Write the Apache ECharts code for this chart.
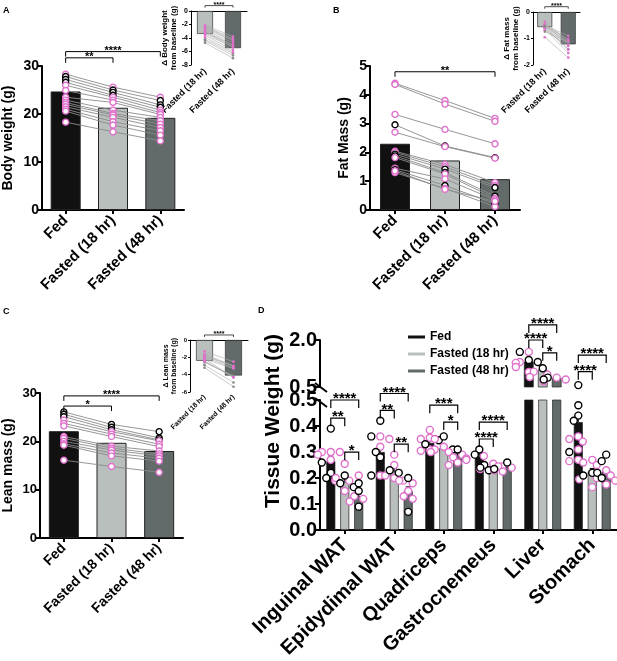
<!DOCTYPE html>
<html>
<head>
<meta charset="utf-8">
<title>Fasting body composition</title>
<script src="https://cdn.jsdelivr.net/npm/echarts@6/dist/echarts.min.js"></script>
<style>
    html, body { margin: 0; padding: 0; background: #fff; }
    #chart { width: 617px; height: 661px; }
</style>
</head>
<body>
<div id="chart"></div>
<script>
(function () {
    'use strict';

    var FONT = '"Liberation Sans", Arial, sans-serif';
    var PINK = '#e070cc';
    var BAR_COLORS = ['#111111', '#b9bfbd', '#626a6a'];

    var conditions = ['Fed', 'Fasted (18 hr)', 'Fasted (48 hr)'];
    var fastConditions = ['Fasted (18 hr)', 'Fasted (48 hr)'];

    // A - body weight (g), one entry per mouse
    var bwFed = [28.3, 27.8, 27.2, 26.6, 26.0, 24.9, 23.5, 22.9, 22.4, 22.0, 21.5, 21.0, 20.6, 18.3];
    var bw18 = [25.6, 25.0, 24.5, 23.9, 23.5, 22.9, 22.4, 20.8, 20.1, 19.8, 19.3, 18.4, 17.7, 16.3];
    var bw48 = [23.5, 22.8, 21.9, 21.4, 20.8, 20.3, 19.9, 19.3, 18.6, 17.9, 17.2, 16.5, 15.6, 14.4];
    var bwSex = ['p', 'b', 'b', 'b', 'p', 'p', 'p', 'p', 'p', 'p', 'p', 'p', 'p', 'p'];
    var bwMeans = [24.7, 21.3, 19.2];
    var bwDelta18 = [-3.1, -4.4, -4.7, -4.2, -3.4, -2.8, -2.1, -2.3, -2.6, -3.0, -3.6, -3.9, -2.4, -3.2];
    var bwDelta48 = [-5.1, -6.6, -7.0, -6.3, -5.4, -4.7, -3.8, -4.1, -4.4, -5.0, -5.8, -6.1, -4.3, -5.3];
    var bwDeltaMeans = [-3.4, -5.5];

    // B - fat mass (g)
    var fmFed = [4.40, 4.36, 3.32, 2.96, 2.70, 2.04, 2.00, 1.94, 1.88, 1.82, 1.45, 1.40, 1.30, 1.36];
    var fm18 = [3.80, 3.68, 2.80, 2.22, 2.20, 1.58, 1.50, 1.42, 1.30, 1.25, 1.08, 0.85, 0.75, 0.72];
    var fm48 = [3.18, 3.08, 2.30, 1.82, 1.80, 0.95, 0.85, 0.78, 0.48, 0.40, 0.35, 0.22, 0.12, 0.30];
    var fmSex = ['p', 'p', 'p', 'b', 'p', 'p', 'p', 'b', 'b', 'p', 'p', 'b', 'p', 'p'];
    var fmMeans = [2.30, 1.72, 1.07];
    var fmDelta18 = [-0.60, -0.68, -0.52, -0.74, -0.50, -0.46, -0.50, -0.52, -0.58, -0.57, -0.37, -0.55, -0.95, -0.64];
    var fmDelta48 = [-1.22, -1.28, -1.02, -1.14, -0.90, -1.09, -1.15, -1.16, -1.40, -1.42, -1.10, -1.18, -1.72, -1.55];
    var fmDeltaMeans = [-0.57, -1.22];

    // C - lean mass (g)
    var lmFed = [26.1, 25.6, 25.1, 24.4, 23.7, 23.2, 21.0, 20.6, 20.0, 19.5, 19.2, 16.1];
    var lm18 = [23.5, 22.9, 22.4, 22.0, 21.5, 21.0, 19.0, 18.6, 18.2, 17.6, 17.0, 14.8];
    var lm48 = [22.0, 20.7, 20.3, 20.1, 19.4, 18.9, 18.0, 17.4, 17.0, 16.5, 15.9, 13.6];
    var lmSex = ['b', 'b', 'b', 'p', 'p', 'p', 'p', 'p', 'p', 'p', 'p', 'p'];
    var lmMeans = [22.1, 19.7, 18.0];
    var lmDelta18 = [-2.6, -2.9, -3.2, -2.4, -2.2, -2.5, -1.6, -2.0, -1.8, -1.9, -2.2, -1.3];
    var lmDelta48 = [-4.1, -4.9, -5.4, -4.3, -4.3, -4.3, -3.0, -3.2, -3.0, -3.0, -3.3, -2.5];
    var lmDeltaMeans = [-2.4, -4.1];

    // D - tissue weights (g)
    var tissues = ['Inguinal WAT', 'Epidydimal WAT', 'Quadriceps', 'Gastrocnemeus', 'Liver', 'Stomach'];
    var tissueFed = [0.265, 0.300, 0.335, 0.285, 1.30, 0.415];
    var tissue18 = [0.185, 0.225, 0.315, 0.240, 1.04, 0.225];
    var tissue48 = [0.130, 0.150, 0.285, 0.235, 0.78, 0.225];
    var tissueSemFed = [0.020, 0.025, 0.010, 0.008, 0.07, 0.030];
    var tissueSem18 = [0.012, 0.012, 0.008, 0.004, 0.04, 0.012];
    var tissueSem48 = [0.015, 0.016, 0.008, 0.005, 0.02, 0.012];
    var pinkFed = [[0.30, 0.30, 0.30, 0.29, 0.27, 0.19], [0.36, 0.35, 0.32, 0.21], [0.385, 0.355, 0.35, 0.31, 0.305],
        [0.285, 0.275, 0.27], [1.62, 1.30, 1.27, 1.14, 0.98], [0.36, 0.35, 0.34, 0.31, 0.27, 0.265]];
    var blackFed = [[0.39, 0.26, 0.22, 0.20], [0.42, 0.36, 0.30, 0.28, 0.21], [0.345, 0.33],
        [0.31, 0.29], [1.62, 1.36, 1.30], [0.56, 0.48, 0.44, 0.42, 0.30]];
    var pink18 = [[0.255, 0.20, 0.19, 0.15], [0.29, 0.25, 0.21, 0.20, 0.19], [0.35, 0.32, 0.31, 0.30],
        [0.255, 0.245, 0.235], [0.99, 0.90, 0.82], [0.27, 0.26, 0.25, 0.20, 0.195, 0.165]];
    var black18 = [[0.21, 0.18, 0.165], [0.23, 0.22], [0.36, 0.31],
        [0.25, 0.24, 0.23], [1.10], [0.22, 0.21]];
    var pink48 = [[0.21, 0.13, 0.12, 0.11], [0.19, 0.18, 0.15, 0.13, 0.12], [0.30, 0.29, 0.28, 0.26, 0.25],
        [0.245, 0.24, 0.23, 0.225], [0.80, 0.74, 0.68], [0.23, 0.21, 0.19, 0.175]];
    var black48 = [[0.18, 0.15, 0.09], [0.20, 0.07], [0.31],
        [0.26, 0.235], [0.80, 0.74], [0.29, 0.265, 0.22, 0.20]];

    // significance brackets: [from, to, y] (A-C) and [tissue, fromBar, toBar, y] (D)
    var bwBrackets = [[0, 1, 31.7], [0, 2, 33.0]];
    var bwBracketText = ['**', '****'];
    var fmBrackets = [[0, 2, 4.8]];
    var fmBracketText = ['**'];
    var lmBrackets = [[0, 1, 27.3], [0, 2, 29.4]];
    var lmBracketText = ['*', '****'];
    var deltaBracketText = ['****'];
    var tissueBracketsLow = [[0, 0, 2, 0.50], [0, 0, 1, 0.43], [0, 1, 2, 0.30],
        [1, 0, 2, 0.525], [1, 0, 1, 0.46], [1, 1, 2, 0.33],
        [2, 0, 2, 0.48], [2, 1, 2, 0.415],
        [3, 0, 2, 0.415], [3, 0, 1, 0.35]];
    var tissueBracketLowText = ['****', '**', '*', '****', '**', '**', '***', '*', '****', '****'];
    var tissueBracketsHigh = [[4, 0, 2, 2.48], [4, 0, 1, 2.0], [4, 1, 2, 1.59], [5, 0, 2, 1.52], [5, 0, 1, 0.99]];
    var tissueBracketHighText = ['****', '****', '*', '****', '****'];

    // layout
    var D_LEFT = 320, D_WIDTH = 297, D_LOW_TOP = 400, D_LOW_H = 135, D_UP_TOP = 340, D_UP_H = 47;
    var BAR_D = 9, SUB = BAR_D * 1.55;

    var series = [];

    function axisFont(size) {
        return {fontSize: size, fontWeight: 'bold', color: '#000', fontFamily: FONT};
    }

    function catAxis(grid, data, o) {
        return {
            type: 'category', gridIndex: grid, data: data, show: o.show !== false,
            position: 'bottom',
            axisLine: {show: o.line !== false, onZero: false, lineStyle: {color: '#000', width: o.lw}},
            axisTick: {show: o.tick !== false, alignWithLabel: true, length: 4, lineStyle: {color: '#000', width: o.lw}},
            axisLabel: Object.assign({rotate: 45, interval: 0, margin: o.margin || 6}, axisFont(o.fs)),
            splitLine: {show: false}
        };
    }

    function topLine(grid, data) {
        return {
            type: 'category', gridIndex: grid, data: data, position: 'top',
            axisLine: {onZero: false, lineStyle: {color: '#000', width: 1}},
            axisTick: {show: false}, axisLabel: {show: false}, splitLine: {show: false}
        };
    }

    function valAxis(grid, min, max, step, o) {
        return {
            type: 'value', gridIndex: grid, min: min, max: max, interval: step,
            name: o.name || '', nameLocation: 'middle', nameGap: o.gap || 20, nameRotate: 90,
            nameTextStyle: Object.assign({lineHeight: o.nfs + 1}, axisFont(o.nfs || 12)),
            axisLine: {show: true, onZero: false, lineStyle: {color: '#000', width: o.lw}},
            axisTick: {show: true, length: o.tl || 4, lineStyle: {color: '#000', width: o.lw}},
            axisLabel: Object.assign({margin: 3, formatter: o.fmt}, axisFont(o.fs)),
            splitLine: {show: false}
        };
    }

    function bracketSeries(g, items, labels, st) {
        return {
            type: 'custom', xAxisIndex: g, yAxisIndex: g, silent: true, z: 6,
            data: items,
            encode: {x: 0, y: items[0].length - 1},
            renderItem: function (params, api) {
                var d = items[params.dataIndex];
                var y = d[d.length - 1];
                var p = api.coord([d[0], y]);
                var x1, x2;
                if (d.length === 3) {
                    x1 = p[0];
                    x2 = api.coord([d[1], y])[0];
                } else {
                    x1 = p[0] + (d[1] - 1) * SUB;
                    x2 = p[0] + (d[2] - 1) * SUB;
                }
                return {
                    type: 'group',
                    children: [{
                        type: 'polyline',
                        shape: {points: [[x1, p[1] + st.leg], [x1, p[1]], [x2, p[1]], [x2, p[1] + st.leg]]},
                        style: {stroke: '#000', lineWidth: st.lw, fill: null}
                    }, {
                        type: 'text', x: (x1 + x2) / 2, y: p[1] - 1,
                        style: {
                            text: labels[params.dataIndex], fontSize: st.fs, fontWeight: 'bold', fontFamily: FONT,
                            fill: '#000', align: 'center', verticalAlign: 'middle'
                        }
                    }]
                };
            }
        };
    }

    function mainPanel(g, fed, f18, f48, sex, means, o) {
        series.push({
            type: 'bar', name: 'bars' + g, xAxisIndex: g, yAxisIndex: g, barWidth: o.bw, silent: true, z: 1,
            itemStyle: {borderColor: '#222', borderWidth: 1},
            data: means.map(function (v, i) {
                return {value: v, itemStyle: {color: BAR_COLORS[i]}};
            })
        });
        fed.forEach(function (v, i) {
            series.push({
                type: 'line', xAxisIndex: g, yAxisIndex: g, silent: true, z: 3,
                data: [fed[i], f18[i], f48[i]],
                symbol: 'circle', symbolSize: o.sym,
                lineStyle: {color: '#8a8a8a', width: 0.9},
                itemStyle: {color: '#fff', borderColor: sex[i] === 'b' ? '#000' : PINK, borderWidth: 1.4}
            });
        });
    }

    function insetPanel(g, d18, d48, sex, means, o) {
        series.push({
            type: 'bar', name: 'bars' + g, xAxisIndex: g, yAxisIndex: g, barWidth: o.bw, silent: true, z: 1,
            itemStyle: {borderColor: '#333', borderWidth: 0.7},
            data: means.map(function (v, i) {
                return {value: v, itemStyle: {color: BAR_COLORS[i + 1]}};
            })
        });
        d18.forEach(function (v, i) {
            series.push({
                type: 'line', xAxisIndex: g, yAxisIndex: g, silent: true, z: 3,
                data: [d18[i], d48[i]],
                symbol: 'circle', symbolSize: 2.6,
                lineStyle: {color: '#a9a9a9', width: 0.6},
                itemStyle: {color: sex[i] === 'b' ? '#8a8a8a' : PINK, borderWidth: 0}
            });
        });
    }

    // D helpers
    function spreadOffsets(values) {
        var order = values.map(function (v, i) { return i; })
            .sort(function (a, b) { return values[b] - values[a]; });
        var cands = [0, -4.5, 4.5, -9, 9, -13];
        var placed = [], out = [];
        order.forEach(function (i) {
            var v = values[i];
            var py = v > 0.5 ? 1000 + v * 31.3 : v * 270;
            for (var k = 0; k < cands.length; k++) {
                var ok = placed.every(function (p) {
                    var dx = p[0] - cands[k], dy = p[1] - py;
                    return dx * dx + dy * dy >= 49;
                });
                if (ok || k === cands.length - 1) {
                    placed.push([cands[k], py]);
                    out[i] = cands[k];
                    break;
                }
            }
        });
        return out;
    }

    var pinkSets = [pinkFed, pink18, pink48];
    var blackSets = [blackFed, black18, black48];
    var lowPoints = [], highPoints = [];
    tissues.forEach(function (t, ti) {
        for (var c = 0; c < 3; c++) {
            var vals = pinkSets[c][ti].concat(blackSets[c][ti]);
            var nPink = pinkSets[c][ti].length;
            var offs = spreadOffsets(vals);
            vals.forEach(function (v, k) {
                var item = [ti, c, v, k >= nPink ? 1 : 0, offs[k]];
                (v > 0.5 ? highPoints : lowPoints).push(item);
            });
        }
    });

    function pointSeries(g, items) {
        return {
            type: 'custom', xAxisIndex: g, yAxisIndex: g, silent: true, z: 4,
            data: items, encode: {x: 0, y: 2},
            renderItem: function (params, api) {
                var d = items[params.dataIndex];
                var p = api.coord([d[0], d[2]]);
                return {
                    type: 'circle',
                    shape: {cx: p[0] + (d[1] - 1) * SUB + d[4], cy: p[1], r: 3.5},
                    style: {fill: '#fff', stroke: d[3] ? '#000' : PINK, lineWidth: 1.4}
                };
            }
        };
    }

    var means = [tissueFed, tissue18, tissue48];
    var sems = [tissueSemFed, tissueSem18, tissueSem48];
    var lowErr = [], highErr = [], highBars = [];
    tissues.forEach(function (t, ti) {
        for (var c = 0; c < 3; c++) {
            var m = means[c][ti];
            (m > 0.5 ? highErr : lowErr).push([ti, c, m, sems[c][ti]]);
            if (m > 0.5) highBars.push([ti, c, m]);
        }
    });

    function errorSeries(g, items) {
        return {
            type: 'custom', xAxisIndex: g, yAxisIndex: g, silent: true, z: 3,
            data: items, encode: {x: 0, y: 2},
            renderItem: function (params, api) {
                var d = items[params.dataIndex];
                var a = api.coord([d[0], d[2]]);
                var b = api.coord([d[0], d[2] + d[3]]);
                var x = a[0] + (d[1] - 1) * SUB;
                return {
                    type: 'group',
                    children: [
                        {type: 'line', shape: {x1: x, y1: a[1], x2: x, y2: b[1]}, style: {stroke: '#000', lineWidth: 1}},
                        {type: 'line', shape: {x1: x - 2.5, y1: b[1], x2: x + 2.5, y2: b[1]}, style: {stroke: '#000', lineWidth: 1}}
                    ]
                };
            }
        };
    }

    // bars of the upper (broken) segment start at the 0.5 break
    function upperBarSeries(g, items, base) {
        return {
            type: 'custom', xAxisIndex: g, yAxisIndex: g, silent: true, z: 2,
            data: items, encode: {x: 0, y: 2},
            renderItem: function (params, api) {
                var d = items[params.dataIndex];
                var top = api.coord([d[0], d[2]]);
                var bottom = api.coord([d[0], base]);
                return {
                    type: 'rect',
                    shape: {x: top[0] + (d[1] - 1) * SUB - BAR_D / 2, y: top[1], width: BAR_D, height: bottom[1] - top[1]},
                    style: {fill: BAR_COLORS[d[1]], stroke: '#222', lineWidth: 0.7}
                };
            }
        };
    }

    // panels A-C
    mainPanel(0, bwFed, bw18, bw48, bwSex, bwMeans, {bw: 30, sym: 6});
    series.push(bracketSeries(0, bwBrackets, bwBracketText, {leg: 5, lw: 1, fs: 11}));
    insetPanel(1, bwDelta18, bwDelta48, bwSex, bwDeltaMeans, {bw: 16});
    series.push(bracketSeries(1, [[0, 1, 0.8]], deltaBracketText, {leg: 2, lw: 0.7, fs: 7}));

    mainPanel(2, fmFed, fm18, fm48, fmSex, fmMeans, {bw: 30, sym: 6});
    series.push(bracketSeries(2, fmBrackets, fmBracketText, {leg: 5, lw: 1, fs: 11}));
    insetPanel(3, fmDelta18, fmDelta48, fmSex, fmDeltaMeans, {bw: 15});
    series.push(bracketSeries(3, [[0, 1, 0.2]], deltaBracketText, {leg: 2, lw: 0.7, fs: 7}));

    mainPanel(4, lmFed, lm18, lm48, lmSex, lmMeans, {bw: 30, sym: 6});
    series.push(bracketSeries(4, lmBrackets, lmBracketText, {leg: 5, lw: 1, fs: 11}));
    insetPanel(5, lmDelta18, lmDelta48, lmSex, lmDeltaMeans, {bw: 17});
    series.push(bracketSeries(5, [[0, 1, 0.58]], deltaBracketText, {leg: 2, lw: 0.7, fs: 7}));

    // panel D: two stacked grids (broken axis)
    [tissueFed, tissue18, tissue48].forEach(function (vals, c) {
        series.push({
            type: 'bar', name: conditions[c], xAxisIndex: 6, yAxisIndex: 6, silent: true, z: 1,
            barWidth: BAR_D, barGap: '55%', data: vals,
            itemStyle: {color: BAR_COLORS[c], borderColor: '#222', borderWidth: 0.7}
        });
    });
    series.push(upperBarSeries(7, highBars, 0.5));
    series.push(errorSeries(6, lowErr));
    series.push(errorSeries(7, highErr));
    series.push(pointSeries(6, lowPoints));
    series.push(pointSeries(7, highPoints));
    series.push(bracketSeries(6, tissueBracketsLow, tissueBracketLowText, {leg: 8, lw: 1.2, fs: 15}));
    series.push(bracketSeries(7, tissueBracketsHigh, tissueBracketHighText, {leg: 8, lw: 1.2, fs: 15}));

    var option = {
        animation: false,
        backgroundColor: '#fff',
        textStyle: {fontFamily: FONT},
        grid: [
            {left: 40, top: 66, width: 144, height: 144},
            {left: 191, top: 11, width: 56, height: 54},
            {left: 370, top: 66, width: 150, height: 144},
            {left: 533, top: 12, width: 47, height: 53},
            {left: 39, top: 393, width: 144, height: 145},
            {left: 190, top: 340, width: 58, height: 52},
            {left: D_LEFT, top: D_LOW_TOP, width: D_WIDTH, height: D_LOW_H},
            {left: D_LEFT, top: D_UP_TOP, width: D_WIDTH, height: D_UP_H}
        ],
        xAxis: [
            catAxis(0, conditions, {lw: 2, fs: 15, margin: 8}),
            catAxis(1, fastConditions, {lw: 1, fs: 9, line: false, tick: false, margin: 5}),
            catAxis(2, conditions, {lw: 2, fs: 15, margin: 8}),
            catAxis(3, fastConditions, {lw: 1, fs: 9, line: false, tick: false, margin: 5}),
            catAxis(4, conditions, {lw: 2, fs: 14, margin: 8}),
            catAxis(5, fastConditions, {lw: 1, fs: 7, line: false, tick: false, margin: 4}),
            catAxis(6, tissues, {lw: 2, fs: 20, margin: 12}),
            catAxis(7, tissues, {lw: 2, fs: 20, show: false}),
            topLine(1, fastConditions),
            topLine(3, fastConditions),
            topLine(5, fastConditions)
        ],
        yAxis: [
            valAxis(0, 0, 30, 10, {name: 'Body weight (g)', nfs: 14, gap: 26, lw: 2, fs: 14, tl: 5}),
            valAxis(1, -8, 0, 2, {name: '\u0394 Body weight\nfrom baseline (g)', nfs: 8, gap: 12, lw: 1, fs: 7, tl: 2}),
            valAxis(2, 0, 5, 1, {name: 'Fat Mass (g)', nfs: 14, gap: 18, lw: 2, fs: 14, tl: 5}),
            valAxis(3, -2, 0, 1, {name: '\u0394 Fat mass\nfrom baseline (g)', nfs: 8, gap: 12, lw: 1, fs: 7, tl: 2}),
            valAxis(4, 0, 30, 10, {name: 'Lean mass (g)', nfs: 14, gap: 24, lw: 2, fs: 13, tl: 5}),
            valAxis(5, -6, 0, 2, {name: '\u0394 Lean mass\nfrom baseline (g)', nfs: 7, gap: 12, lw: 1, fs: 6, tl: 2}),
            valAxis(6, 0, 0.5, 0.1, {lw: 2, fs: 20, tl: 5, fmt: function (v) { return v.toFixed(1); }}),
            valAxis(7, 0.5, 2.0, 1.5, {lw: 2, fs: 20, tl: 5, fmt: function (v) { return v.toFixed(1); }})
        ],
        legend: {
            data: conditions, orient: 'vertical', left: 403, top: 326,
            icon: 'rect', itemWidth: 17, itemHeight: 3, itemGap: 5,
            itemStyle: {borderWidth: 0},
            selectedMode: false,
            textStyle: axisFont(12)
        },
        graphic: [
            {type: 'text', left: 3, top: 6, style: {text: 'A', font: 'bold 9px ' + FONT, fill: '#000'}},
            {type: 'text', left: 333, top: 6, style: {text: 'B', font: 'bold 9px ' + FONT, fill: '#000'}},
            {type: 'text', left: 3, top: 307, style: {text: 'C', font: 'bold 9px ' + FONT, fill: '#000'}},
            {type: 'text', left: 258, top: 306, style: {text: 'D', font: 'bold 9px ' + FONT, fill: '#000'}},
            {
                type: 'text', x: 273, y: 421, rotation: Math.PI / 2,
                style: {text: 'Tissue Weight (g)', font: 'bold 21px ' + FONT, fill: '#000', align: 'center', verticalAlign: 'middle'}
            },
            {
                type: 'line', shape: {x1: D_LEFT - 5, y1: D_UP_TOP + D_UP_H - 4, x2: D_LEFT + 7, y2: D_UP_TOP + D_UP_H + 5},
                style: {stroke: '#000', lineWidth: 2}
            },
            {
                type: 'line', shape: {x1: D_LEFT - 5, y1: D_LOW_TOP - 2, x2: D_LEFT + 7, y2: D_LOW_TOP + 7},
                style: {stroke: '#000', lineWidth: 2}
            }
        ],
        series: series
    };

    var chart = echarts.init(document.getElementById('chart'));
    chart.setOption(option);
})();
</script>
</body>
</html>
